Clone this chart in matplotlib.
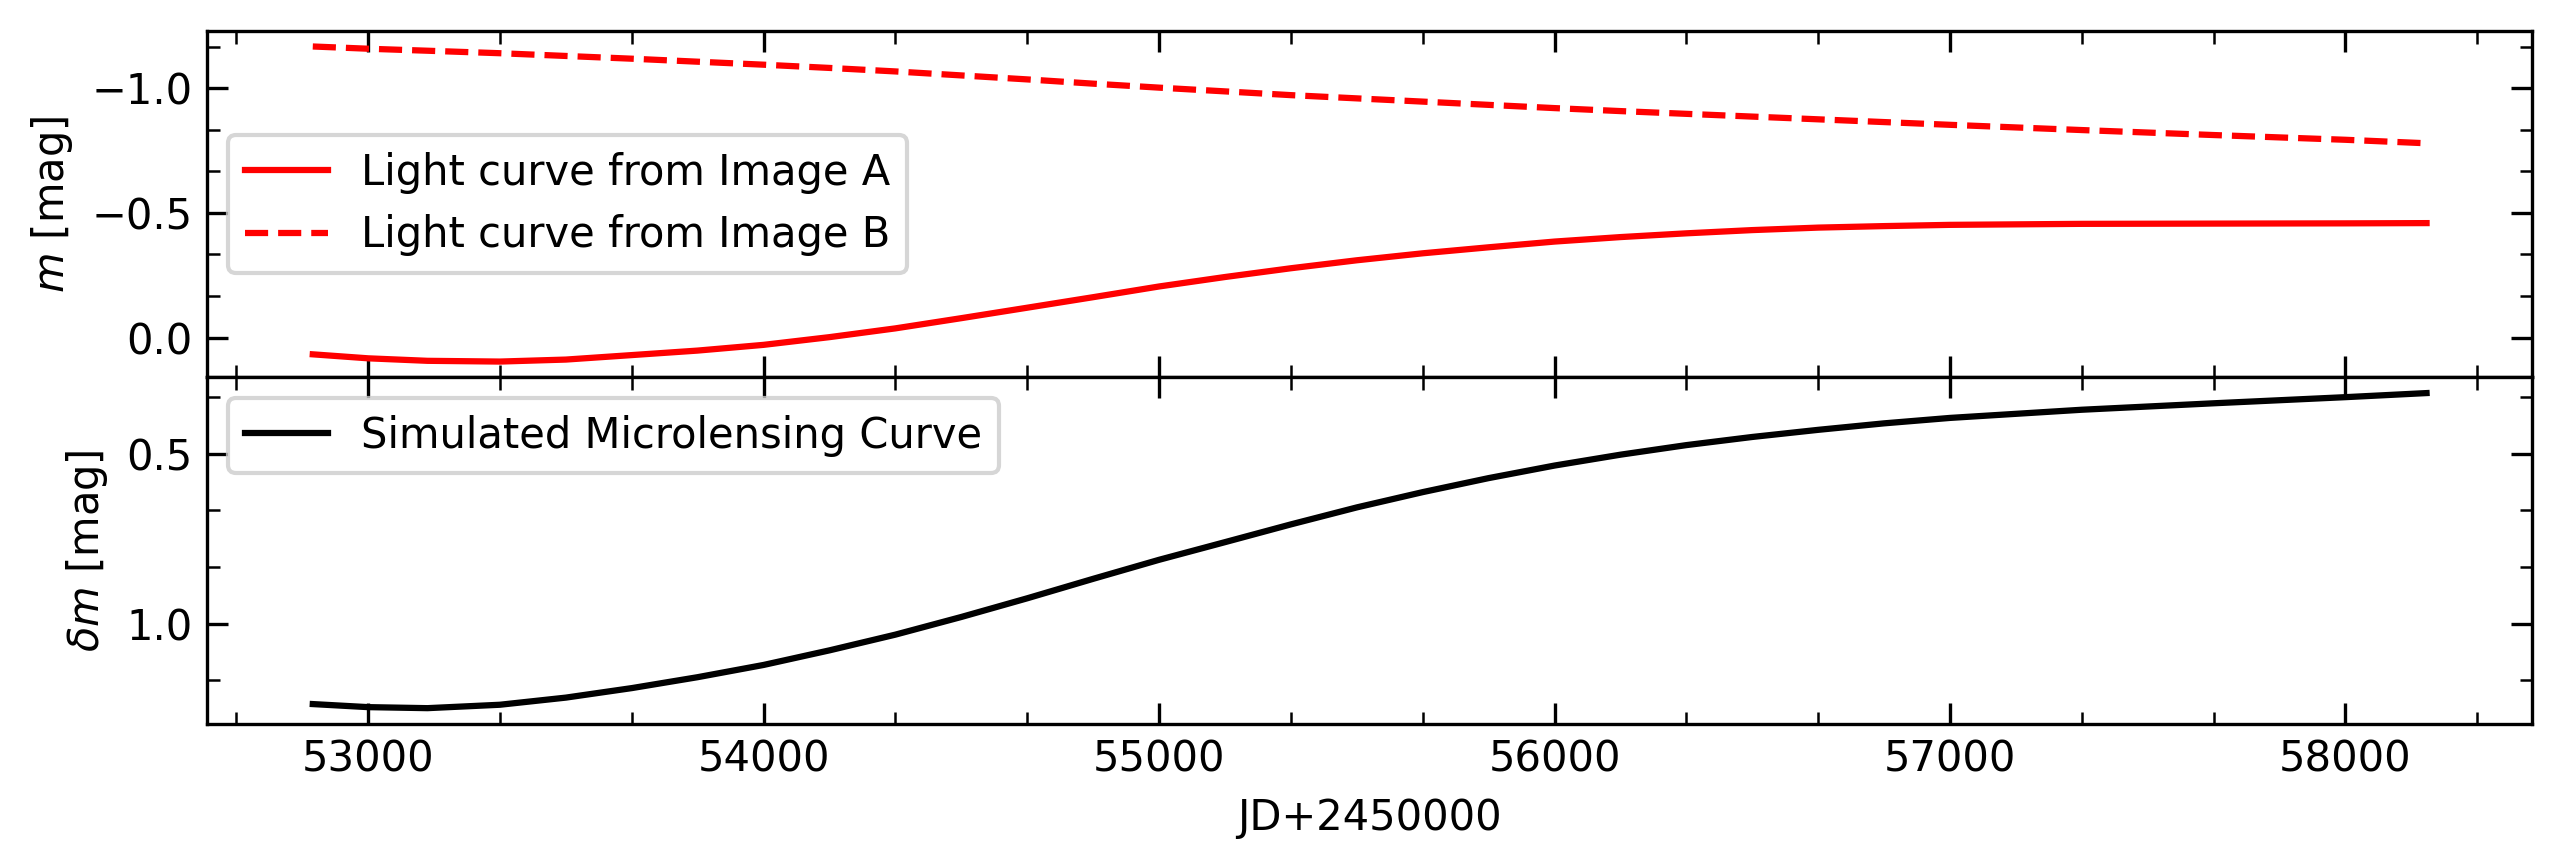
import matplotlib.pyplot as plt
from matplotlib.ticker import MultipleLocator, AutoMinorLocator

# 观测时间 (JD-2450000)
jd = [52860, 53000, 53150, 53333, 53500, 53667, 53833, 54000, 54167, 54333,
      54500, 54667, 54833, 55000, 55167, 55333, 55500, 55667, 55833, 56000,
      56167, 56333, 56500, 56667, 56833, 57000, 57333, 57667, 58000, 58205]

# 像 A 的光变曲线
mag_a = [0.067, 0.083, 0.093, 0.096, 0.088, 0.070, 0.052, 0.029, -0.002, -0.037,
         -0.078, -0.120, -0.162, -0.205, -0.243, -0.278, -0.310, -0.338, -0.362, -0.385,
         -0.403, -0.418, -0.431, -0.441, -0.447, -0.452, -0.456, -0.457, -0.458, -0.459]

# 像 B 的光变曲线
mag_b = [-1.167, -1.158, -1.150, -1.140, -1.129, -1.118, -1.106, -1.094, -1.081, -1.067,
         -1.051, -1.035, -1.018, -1.002, -0.987, -0.972, -0.959, -0.946, -0.933, -0.920,
         -0.908, -0.897, -0.886, -0.875, -0.864, -0.853, -0.832, -0.812, -0.793, -0.779]

# 模拟微引力透镜曲线
delta_m = [1.236, 1.245, 1.248, 1.238, 1.217, 1.189, 1.157, 1.121, 1.078, 1.032,
           0.980, 0.925, 0.868, 0.812, 0.760, 0.708, 0.658, 0.613, 0.572, 0.535,
           0.503, 0.475, 0.451, 0.430, 0.411, 0.395, 0.371, 0.352, 0.334, 0.322]

plt.rcParams['font.size'] = 10

fig, (ax1, ax2) = plt.subplots(2, 1, sharex=True, figsize=(2563 / 300, 868 / 300), dpi=300)
fig.subplots_adjust(left=0.0808, right=0.988, top=0.9646, bottom=0.166, hspace=0)

# 上图: 两个像的光变曲线
ax1.plot(jd, mag_a, color='red', lw=1.5, label='Light curve from Image A')
ax1.plot(jd, mag_b, color='red', lw=1.5, ls='--', label='Light curve from Image B')
ax1.invert_yaxis()
ax1.set_ylabel(r'$m$ [mag]')
ax1.yaxis.set_major_locator(MultipleLocator(0.5))
ax1.legend(loc='center left')

# 下图: 微引力透镜曲线
ax2.plot(jd, delta_m, color='black', lw=1.5, label='Simulated Microlensing Curve')
ax2.invert_yaxis()
ax2.set_ylabel(r'$\delta m$ [mag]')
ax2.yaxis.set_major_locator(MultipleLocator(0.5))
ax2.set_xlabel('JD+2450000')
ax2.xaxis.set_major_locator(MultipleLocator(1000))
ax2.legend(loc='upper left')

for ax in (ax1, ax2):
    ax.xaxis.set_minor_locator(AutoMinorLocator(3))
    ax.yaxis.set_minor_locator(AutoMinorLocator(3))
    ax.tick_params(which='both', direction='in', top=True, right=True)
    ax.tick_params(which='major', length=5)
    ax.tick_params(which='minor', length=3)

plt.savefig('out.png', dpi=300)
